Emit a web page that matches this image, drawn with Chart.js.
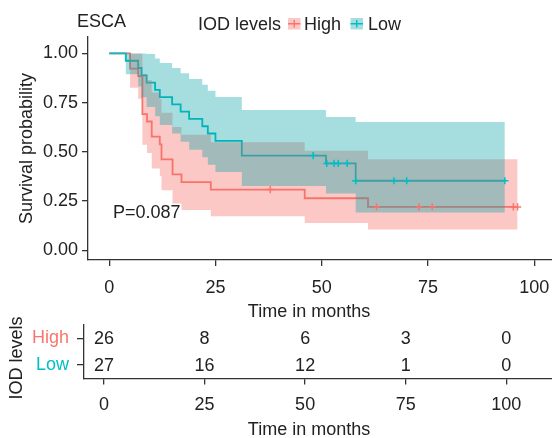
<!DOCTYPE html>
<html>
<head>
<meta charset="utf-8">
<script src="https://cdn.jsdelivr.net/npm/chart.js@4.4.1/dist/chart.umd.min.js"></script>
<style>
  html, body { margin: 0; padding: 0; background: #fff; }
  #wrap { position: relative; width: 552px; height: 438px; }
  #km { position: absolute; left: 0; top: 0; }
  #risk { position: absolute; left: 0; top: 300px; }
</style>
</head>
<body>
<div id="wrap">
  <canvas id="km" width="552" height="322"></canvas>
  <canvas id="risk" width="552" height="138"></canvas>
</div>
<script>
// survival curves (months, probability)
const highTime  = [0, 4.9, 6.8, 7.8, 8.9, 10.0, 11.9, 12.3, 14.9, 17.0, 23.9, 46.0, 60.9, 96.1];
const highSurv  = [1, 0.923, 0.885, 0.692, 0.654, 0.577, 0.538, 0.462, 0.385, 0.346, 0.308, 0.264, 0.220, 0.220];
const highUpper = [1, 1, 1, 0.895, 0.865, 0.802, 0.769, 0.699, 0.626, 0.587, 0.548, 0.506, 0.462, 0.462];
const highLower = [1, 0.826, 0.770, 0.536, 0.494, 0.415, 0.377, 0.305, 0.237, 0.204, 0.173, 0.138, 0.105, 0.105];
const highCensorTime = [37.9, 62.9, 72.9, 76.0, 95.1, 96.1];
const highCensorSurv = [0.308, 0.220, 0.220, 0.220, 0.220, 0.220];

const lowTime  = [0, 3.9, 6.8, 7.6, 8.8, 10.8, 11.9, 14.8, 16.8, 18.8, 21.9, 23.2, 25.0, 31.2, 51.0, 58.0, 93.1];
const lowSurv  = [1, 0.963, 0.926, 0.889, 0.852, 0.815, 0.778, 0.741, 0.704, 0.667, 0.630, 0.593, 0.556, 0.481, 0.441, 0.353, 0.353];
const lowUpper = [1, 1, 1, 1, 0.997, 0.975, 0.951, 0.926, 0.899, 0.870, 0.841, 0.810, 0.779, 0.712, 0.677, 0.651, 0.651];
const lowLower = [1, 0.894, 0.832, 0.778, 0.728, 0.681, 0.636, 0.593, 0.551, 0.511, 0.472, 0.434, 0.397, 0.326, 0.288, 0.191, 0.191];
const lowCensorTime = [48.0, 51.2, 52.9, 53.9, 56.0, 58.0, 67.0, 70.0, 93.1];
const lowCensorSurv = [0.481, 0.441, 0.441, 0.441, 0.441, 0.353, 0.353, 0.353, 0.353];

// number at risk table
const groups = ['High', 'Low'];
const riskTimes = [0, 25, 50, 75, 100];
const riskHigh = [26, 8, 6, 3, 0];
const riskLow = [27, 16, 12, 1, 0];

const xTicks = [0, 25, 50, 75, 100];
const yTicks = [0, 0.25, 0.5, 0.75, 1];
const pValueText = 'P=0.087';

const RED = '#F8766D';
const TEAL = '#00BFC4';
const RED_BAND = 'rgba(245,110,105,0.38)';
const TEAL_BAND = 'rgba(0,160,166,0.35)';
const TXT = '#222';
const AXIS = '#333';
const FONT = "'Liberation Sans', Arial, Helvetica, sans-serif";
const RISK_TOP = 300; // page y of the risk canvas

Chart.defaults.font.family = FONT;
Chart.defaults.font.size = 18;
Chart.defaults.color = TXT;

function pts(xs, ys) { return xs.map((x, i) => ({ x: x, y: ys[i] })); }

function stepLine(data, color, order) {
    return { data: data, borderColor: color, borderWidth: 1.8, stepped: true, pointRadius: 0, fill: false, order: order };
}
function bandEdge(data, fillTarget, color, order) {
    return { data: data, borderColor: 'rgba(0,0,0,0)', borderWidth: 0, stepped: true, pointRadius: 0,
             fill: fillTarget === null ? false : { target: fillTarget }, backgroundColor: color, order: order };
}
function censorMarks(data, color, order) {
    return { data: data, showLine: false, pointStyle: 'cross', pointRadius: 3.6, pointBorderWidth: 1.5,
             pointBorderColor: color, pointBackgroundColor: color, order: order };
}

const axisGrid = { drawOnChartArea: false, drawTicks: true, tickLength: 6, color: AXIS, lineWidth: 1.3 };
const axisBorder = { display: true, color: AXIS, width: 1.3 };
const noSidePad = s => { s.paddingLeft = 0; s.paddingRight = 0; };

const kmText = {
    id: 'kmText',
    afterDraw(chart) {
        const ctx = chart.ctx;
        ctx.save();
        ctx.font = '18px ' + FONT;
        ctx.fillStyle = TXT;
        ctx.textBaseline = 'alphabetic';
        ctx.textAlign = 'left';
        ctx.fillText('ESCA', 77, 27.3);
        ctx.fillText('IOD levels', 198, 29.7);
        ctx.fillText('High', 304, 29.7);
        ctx.fillText('Low', 368, 29.7);
        ctx.fillText(pValueText, 113, 218.3);
        ctx.textAlign = 'center';
        ctx.fillText('Time in months', 309, 316.7);
        // legend keys
        [[288, RED_BAND, RED], [350.5, TEAL_BAND, TEAL]].forEach(([kx, fillCol, lineCol]) => {
            ctx.fillStyle = fillCol;
            ctx.fillRect(kx, 18, 12.5, 11.5);
            ctx.strokeStyle = lineCol;
            ctx.lineWidth = 1.4;
            ctx.beginPath();
            ctx.moveTo(kx, 23.8); ctx.lineTo(kx + 12.5, 23.8);
            ctx.moveTo(kx + 6.25, 20); ctx.lineTo(kx + 6.25, 27.6);
            ctx.stroke();
        });
        ctx.restore();
    }
};

new Chart(document.getElementById('km'), {
    type: 'line',
    data: {
        datasets: [
            stepLine(pts(highTime, highSurv), RED, 6),
            stepLine(pts(lowTime, lowSurv), TEAL, 5),
            bandEdge(pts(highTime, highUpper), 3, RED_BAND, 4),
            bandEdge(pts(highTime, highLower), null, RED_BAND, 4),
            bandEdge(pts(lowTime, lowUpper), 5, TEAL_BAND, 3),
            bandEdge(pts(lowTime, lowLower), null, TEAL_BAND, 3),
            censorMarks(pts(highCensorTime, highCensorSurv), RED, 2),
            censorMarks(pts(lowCensorTime, lowCensorSurv), TEAL, 1)
        ]
    },
    options: {
        responsive: false,
        animation: false,
        layout: { autoPadding: false, padding: { top: 37, left: 0, right: 0, bottom: 0 } },
        plugins: { legend: { display: false }, tooltip: { enabled: false } },
        scales: {
            x: {
                type: 'linear', min: -5, max: 104.2,
                afterBuildTicks: s => { s.ticks = xTicks.map(v => ({ value: v })); },
                afterFit: s => { s.height = 62; noSidePad(s); },
                grid: axisGrid, border: axisBorder,
                ticks: { color: TXT, padding: 11, maxRotation: 0, autoSkip: false }
            },
            y: {
                type: 'linear', min: -0.05, max: 1.0837,
                afterBuildTicks: s => { s.ticks = yTicks.map(v => ({ value: v })); },
                afterFit: s => { s.width = 88; s.paddingTop = 0; s.paddingBottom = 0; },
                grid: axisGrid, border: axisBorder,
                title: { display: true, text: 'Survival probability', color: TXT, padding: { top: 16, bottom: 0 } },
                ticks: { color: TXT, padding: 4, callback: v => Number(v).toFixed(2) }
            }
        }
    },
    plugins: [kmText]
});

const riskText = {
    id: 'riskText',
    afterDraw(chart) {
        const ctx = chart.ctx;
        const xs = chart.scales.x, ys = chart.scales.y;
        ctx.save();
        ctx.font = '18px ' + FONT;
        ctx.fillStyle = TXT;
        ctx.textAlign = 'center';
        ctx.textBaseline = 'middle';
        [riskHigh, riskLow].forEach((row, gi) => {
            const y = ys.getPixelForValue(gi);
            row.forEach((n, j) => ctx.fillText(String(n), xs.getPixelForValue(riskTimes[j]), y + 1));
        });
        ctx.textBaseline = 'alphabetic';
        ctx.fillText('Time in months', 309, 434.6 - RISK_TOP);
        ctx.translate(22, 358 - RISK_TOP);
        ctx.rotate(-Math.PI / 2);
        ctx.fillText('IOD levels', 0, 0);
        ctx.restore();
    }
};

new Chart(document.getElementById('risk'), {
    type: 'line',
    data: { datasets: [] },
    options: {
        responsive: false,
        animation: false,
        layout: { autoPadding: false, padding: { top: 325 - RISK_TOP, left: 0, right: 0, bottom: 0 } },
        plugins: { legend: { display: false }, tooltip: { enabled: false } },
        scales: {
            x: {
                type: 'linear', min: -5, max: 111.4,
                afterBuildTicks: s => { s.ticks = xTicks.map(v => ({ value: v })); },
                afterFit: s => { s.height = 59.5; noSidePad(s); },
                grid: axisGrid, border: axisBorder,
                ticks: { color: TXT, padding: 9.5, maxRotation: 0, autoSkip: false }
            },
            y: {
                type: 'category', labels: groups, offset: true,
                afterFit: s => { s.width = 84; s.paddingTop = 0; s.paddingBottom = 0; },
                grid: Object.assign({}, axisGrid, { tickLength: 7, offset: false }),
                border: axisBorder,
                ticks: { padding: 8, autoSkip: false, color: c => (c.index === 0 ? RED : TEAL) }
            }
        }
    },
    plugins: [riskText]
});
</script>
</body>
</html>
